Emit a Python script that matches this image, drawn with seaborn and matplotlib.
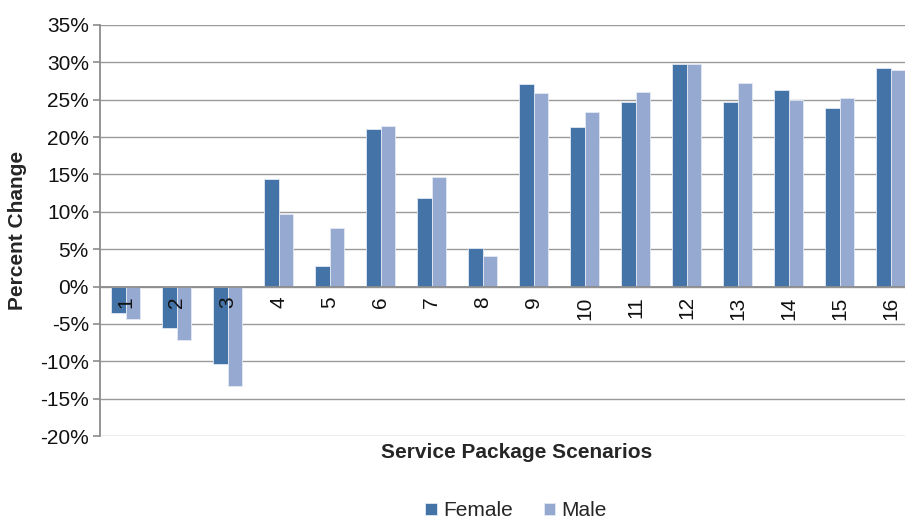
import matplotlib
matplotlib.use("Agg")
import matplotlib.pyplot as plt
import seaborn as sns
import pandas as pd
from matplotlib.ticker import PercentFormatter

# values (percent change)
scenarios = [str(i) for i in range(1, 17)]
female = [-3.5, -5.6, -10.4, 14.4, 2.8, 21.1, 11.8, 5.2,
          27.1, 21.3, 24.7, 29.8, 24.7, 26.3, 23.9, 29.2]
male = [-4.4, -7.1, -13.3, 9.7, 7.9, 21.5, 14.6, 4.1,
        25.9, 23.4, 26.1, 29.8, 27.2, 24.9, 25.2, 29.0]
y_ticks = list(range(-20, 40, 5))

df = pd.DataFrame({
    "Scenario": scenarios * 2,
    "Change": female + male,
    "Sex": ["Female"] * len(female) + ["Male"] * len(male),
})

sns.set_style("white")
plt.rcParams["font.family"] = ["Liberation Sans", "DejaVu Sans"]
plt.rcParams["axes.unicode_minus"] = False

FS = 15

fig = plt.figure(figsize=(9.05, 5.2), dpi=100)
ax = fig.add_axes([100 / 905, 84 / 520, 816 / 905, 411 / 520])

palette = {"Female": "#4473a8", "Male": "#95a9d1"}
sns.barplot(data=df, x="Scenario", y="Change", hue="Sex", palette=palette,
            saturation=1, width=0.58, edgecolor="#e3e9f3", linewidth=0.6,
            ax=ax, zorder=2, legend=True)

ax.set_ylim(-20, 35)
ax.set_xlim(-0.5, 15.5)
ax.set_yticks(y_ticks)
ax.yaxis.set_major_formatter(PercentFormatter(decimals=0))
for t in y_ticks:
    ax.axhline(t, color="#9a9a9a", lw=1.0, zorder=0)

ax.set_axisbelow(False)
for s in ["top", "right"]:
    ax.spines[s].set_visible(False)
ax.spines["left"].set_color("#8c8c8c")
ax.spines["left"].set_linewidth(1.3)
ax.spines["bottom"].set_position(("data", 0))
ax.spines["bottom"].set_color("#8c8c8c")
ax.spines["bottom"].set_linewidth(1.3)

ax.tick_params(axis="y", left=True, length=5, width=1.2, color="#8c8c8c",
               labelsize=FS, pad=3, labelcolor="#111111")
ax.tick_params(axis="x", bottom=False, length=0, labelsize=FS, pad=7,
               labelrotation=90, labelcolor="#111111")

ax.set_ylabel("")
ax.set_xlabel("")
fig.text(18 / 905, 1 - 230 / 520, "Percent Change", rotation=90, ha="center",
         va="center", fontsize=FS, fontweight="bold")
fig.text(517 / 905, 1 - 453 / 520, "Service Package Scenarios", ha="center",
         va="center", fontsize=FS, fontweight="bold")

handles, labels = ax.get_legend_handles_labels()
ax.legend(handles, labels, loc="center", bbox_to_anchor=(516 / 905, 1 - 511 / 520),
          bbox_transform=fig.transFigure, ncol=2, frameon=False, fontsize=FS,
          handlelength=0.55, handleheight=0.55, handletextpad=0.3,
          columnspacing=1.5)

fig.savefig("out.png", dpi=100)
